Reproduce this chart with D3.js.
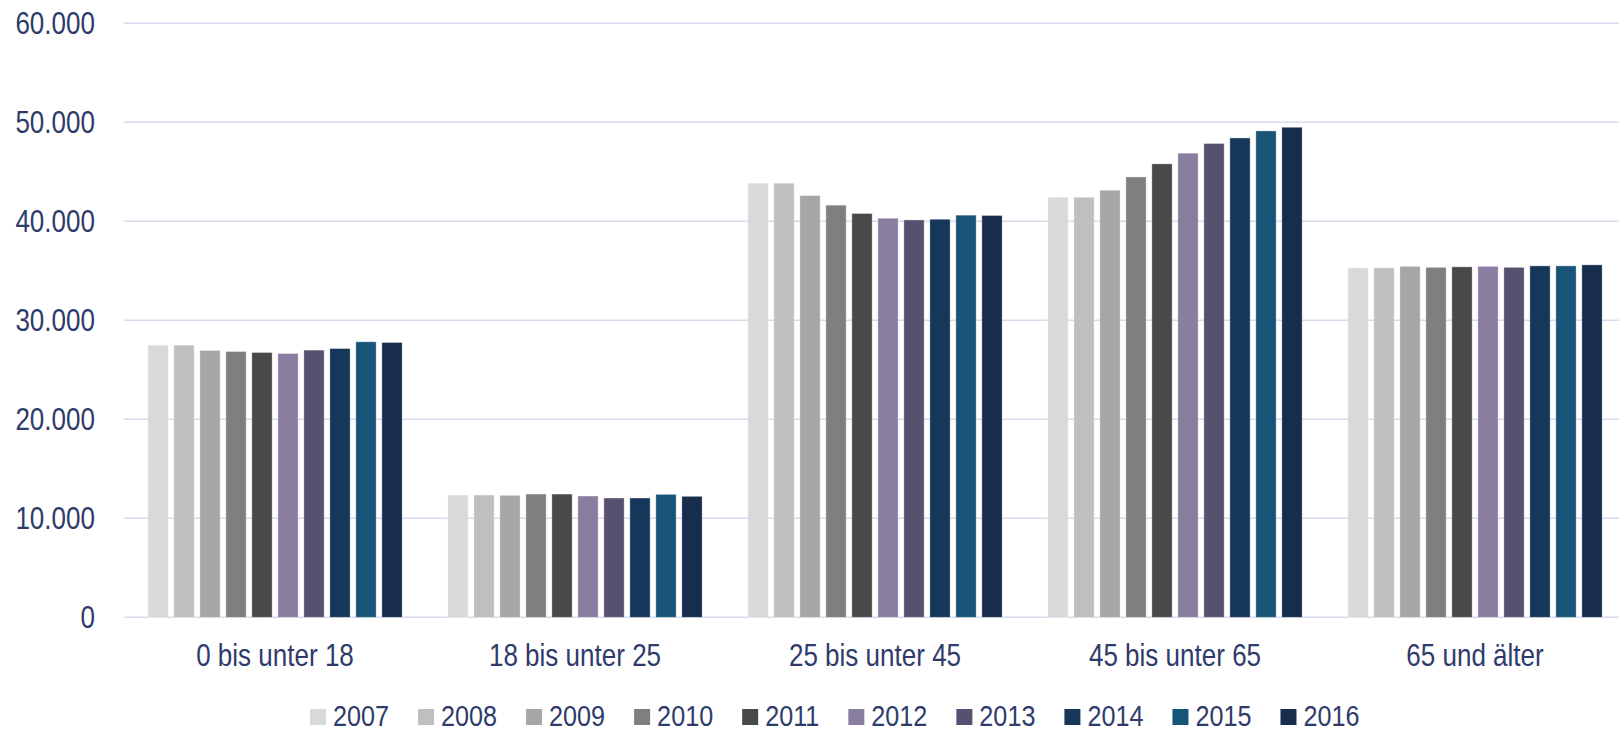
<!DOCTYPE html>
<html>
<head>
<meta charset="utf-8">
<script src="https://cdn.jsdelivr.net/npm/d3@7"></script>
<style>
  body { margin: 0; background: #fff; }
  text { font-family: "Liberation Sans Narrow", "Liberation Sans", sans-serif; fill: #2e3b6b; }
</style>
</head>
<body>
<div id="chart"></div>
<script>
var ageGroups = ['0 bis unter 18', '18 bis unter 25', '25 bis unter 45', '45 bis unter 65', '65 und älter']
var years = ['2007', '2008', '2009', '2010', '2011', '2012', '2013', '2014', '2015', '2016']
var yearColors = ['#d9d9d9', '#bfbfbf', '#a6a6a6', '#7f7f7f', '#494949', '#897ea0', '#58506f', '#17375a', '#185478', '#172d4b']

// one array per age group, values for 2007..2016
var valuesUnder18 = [27490, 27490, 26950, 26850, 26750, 26650, 26990, 27150, 27830, 27760]
var values18to25 = [12350, 12350, 12320, 12450, 12450, 12250, 12050, 12050, 12420, 12220]
var values25to45 = [43850, 43850, 42600, 41630, 40790, 40310, 40140, 40210, 40620, 40590]
var values45to65 = [42430, 42430, 43140, 44480, 45800, 46880, 47860, 48420, 49130, 49500]
var values65plus = [35300, 35300, 35450, 35350, 35400, 35450, 35350, 35500, 35500, 35600]

var yTicks = [0, 10000, 20000, 30000, 40000, 50000, 60000]

;(function () {

  var width = 1619,
      height = 731,
      narrow = 0.84   // no narrow font installed, squeeze the text instead

  var svg = d3.select("#chart")
      .append("svg")
      .attr("width", width)
      .attr("height", height)

  var datapoints = [valuesUnder18, values18to25, values25to45, values45to65, values65plus]
    .map(function(vals, i) {
      return { group: ageGroups[i], values: vals }
    })

  var de = d3.formatLocale({ decimal: ",", thousands: ".", grouping: [3], currency: ["", " €"] })
  var fmt = de.format(",")

  var xPositionScale = d3.scaleBand()
    .domain(ageGroups)
    .range([125, 1625])

  var xYearScale = d3.scaleBand()
    .domain(years)
    .range([0, xPositionScale.bandwidth()])
    .paddingInner(0.22)
    .paddingOuter(0.88)

  var yPositionScale = d3.scaleLinear()
    .domain([0, 60000])
    .range([617.3, 23.3])

  var colorScale = d3.scaleOrdinal()
    .domain(years)
    .range(yearColors)

  // gridlines
  svg.append("g")
    .attr("class", "grid")
    .selectAll("line")
    .data(yTicks)
    .enter().append("line")
    .attr("x1", 124)
    .attr("x2", width)
    .attr("y1", function(d) { return yPositionScale(d) })
    .attr("y2", function(d) { return yPositionScale(d) })
    .attr("stroke", "#d7daed")
    .attr("stroke-width", 1.5)

  var yAxis = d3.axisLeft(yPositionScale)
    .tickValues(yTicks)
    .tickSize(0)
    .tickPadding(0)
    .tickFormat(fmt)
  svg.append("g")
    .attr("class", "axis y-axis")
    .attr("transform", "translate(95,0)")
    .call(yAxis)
    .call(function(g) { g.select(".domain").remove() })
    .selectAll("text")
    .style("font-size", "31px")
    .attr("fill", "#2e3b6b")
    .attr("x", 0)
    .attr("dy", "0.34em")
    .attr("transform", "scale(" + narrow + ",1)")

  var groups = svg.selectAll(".age-group")
      .data(datapoints)
      .enter().append("g")
      .attr("class", "age-group")
      .attr("transform", function(d) {
        return "translate(" + xPositionScale(d.group) + ",0)"
      })

  groups.selectAll("rect")
      .data(function(d) {
        return d.values.map(function(v, i) { return { year: years[i], value: v } })
      })
      .enter().append("rect")
      .attr("x", function(d) { return xYearScale(d.year) })
      .attr("y", function(d) { return yPositionScale(d.value) })
      .attr("width", xYearScale.bandwidth())
      .attr("height", function(d) { return yPositionScale(0) - yPositionScale(d.value) })
      .attr("fill", function(d) { return colorScale(d.year) })
      .attr("stroke", "rgba(255,255,255,0.45)")
      .attr("stroke-width", 0.8)

  var xAxis = d3.axisBottom(xPositionScale)
    .tickSize(0)
    .tickPadding(0)
  svg.append("g")
    .attr("class", "axis x-axis")
    .attr("transform", "translate(0,643)")
    .call(xAxis)
    .call(function(g) { g.select(".domain").remove() })
    .selectAll("text")
    .style("font-size", "31px")
    .attr("fill", "#2e3b6b")
    .attr("dy", "0.74em")
    .attr("transform", "scale(" + narrow + ",1)")

  // legend, laid out left to right by text width
  var legend = svg.append("g")
    .attr("class", "legend")
    .attr("transform", "translate(310,709)")

  var offset = 0
  years.forEach(function(y) {
    var item = legend.append("g")
      .attr("transform", "translate(" + offset + ",0)")
    item.append("rect")
      .attr("width", 16)
      .attr("height", 16)
      .attr("fill", colorScale(y))
    var t = item.append("text")
      .attr("transform", "translate(23,16.5) scale(" + narrow + ",1)")
      .style("font-size", "30px")
      .text(y)
    offset += 23 + t.node().getComputedTextLength() * narrow + 29
  })

})()
</script>
</body>
</html>
